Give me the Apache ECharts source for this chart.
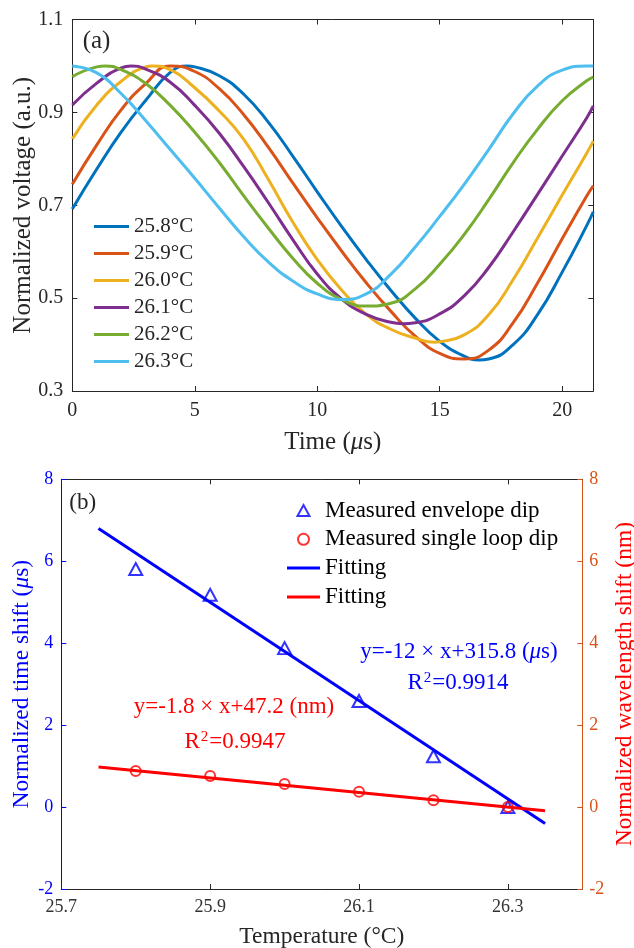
<!DOCTYPE html>
<html><head><meta charset="utf-8">
<script src="https://cdn.jsdelivr.net/npm/echarts@6/dist/echarts.min.js"></script>
<style>html,body{margin:0;padding:0;background:#fff}#c{width:634px;height:948px}</style>
</head><body><div id="c"></div>
<script>
// ---------- (a) data: time (µs) and normalized voltage per temperature ----------
const curveNames = ['25.8°C','25.9°C','26.0°C','26.1°C','26.2°C','26.3°C'];
const t258 = [0,1,2,3,4,4.7,5,6,7,8,9,10,11,12,13,14,15,16,16.6,17,18,19,20,21,21.27];
const v258 = [0.692,0.778,0.858,0.926,0.986,1.000,0.998,0.979,0.939,0.879,0.806,0.729,0.654,0.583,0.517,0.457,0.407,0.375,0.367,0.369,0.400,0.465,0.556,0.656,0.686];
const t259 = [0,1,2,3,4,5,6,7,8,9,10,11,12,13,14,15,16,17,18,19,20,21,21.27];
const v259 = [0.745,0.830,0.906,0.962,1.000,0.988,0.951,0.895,0.825,0.748,0.673,0.601,0.533,0.472,0.418,0.381,0.369,0.388,0.447,0.533,0.628,0.720,0.742];
const t260 = [0,1,2,3,3.25,4,5,6,7,8,9,10,11,12,13,14,14.8,15,16,17,18,19,20,21,21.27];
const v260 = [0.843,0.916,0.967,0.998,1.000,0.992,0.953,0.903,0.842,0.756,0.664,0.583,0.517,0.465,0.433,0.414,0.405,0.406,0.421,0.464,0.540,0.630,0.722,0.812,0.838];
const t261 = [0,1,2,2.4,3,4,5,6,7,8,9,10,11,12,13,13.5,14,15,16,17,18,19,20,21,21.27];
const v261 = [0.916,0.963,0.996,1.000,0.993,0.965,0.915,0.855,0.783,0.706,0.626,0.552,0.498,0.465,0.448,0.445,0.447,0.466,0.505,0.566,0.643,0.724,0.806,0.888,0.914];
const t262 = [0,1,1.35,2,3,4,5,6,7,8,9,10,11,12,13,14,15,16,17,18,19,20,21,21.27];
const v262 = [0.977,0.998,1.000,0.992,0.962,0.915,0.857,0.792,0.720,0.651,0.586,0.532,0.497,0.483,0.489,0.520,0.573,0.637,0.712,0.792,0.864,0.925,0.968,0.976];
const t263 = [0,1,2,3,4,5,6,7,8,9,10,11,12,13,14,15,16,17,18,19,20,21,21.27];
const v263 = [1.000,0.985,0.940,0.882,0.820,0.758,0.694,0.632,0.578,0.537,0.509,0.497,0.509,0.551,0.610,0.676,0.745,0.820,0.897,0.957,0.991,1.000,1.000];
const timeTicks = [0,5,10,15,20];
const voltTicks = [0.3,0.5,0.7,0.9,1.1];

// ---------- (b) data ----------
const temps = [25.8,25.9,26.0,26.1,26.2,26.3];
const envelopeShift = [5.81,5.18,3.88,2.59,1.24,0.0];
const loopShift = [0.88,0.76,0.56,0.375,0.165,0.0];
const fitTemps = [25.75,26.35];
const fitEnvelope = [6.8,-0.4];
const fitLoop = [0.98,-0.09];
const tempTicks = [25.7,25.9,26.1,26.3];

const FONT = "'Liberation Serif','Times New Roman',serif";
const DARK = '#262626';
const BLUE = '#0000FF', RED = '#FF0000', ORANGE = '#D95319';
const curveColors = ['#0072BD','#D95319','#EDB120','#7E2F8E','#77AC30','#4DBEEE'];
const curveT = [t258,t259,t260,t261,t262,t263];
const curveV = [v258,v259,v260,v261,v262,v263];

const chart = echarts.init(document.getElementById('c'), null, {renderer:'canvas'});

function frameAxis(extra){
  return Object.assign({
    type:'value', splitLine:{show:false}, nameMoveOverlap:false,
    axisLine:{show:true, onZero:false, lineStyle:{color:DARK, width:1}},
    axisTick:{show:true, inside:true, length:5, lineStyle:{color:DARK, width:1}},
    axisLabel:{show:false}
  }, extra);
}

const series = [];
curveV.forEach((arr, k) => {
  series.push({
    name: curveNames[k], type:'line', xAxisIndex:0, yAxisIndex:0,
    data: curveT[k].map((t,i)=>[t, arr[i]]),
    symbol:'none', showSymbol:false, smooth:0.5,
    lineStyle:{width:3, color:curveColors[k]}, itemStyle:{color:curveColors[k]}
  });
});
series.push({
  name:'Fitting', type:'line', xAxisIndex:2, yAxisIndex:2,
  data: fitTemps.map((t,i)=>[t, fitEnvelope[i]]),
  symbol:'none', lineStyle:{width:3, color:BLUE}, itemStyle:{color:BLUE}
});
series.push({
  name:'Fitting ', type:'line', xAxisIndex:2, yAxisIndex:3,
  data: fitTemps.map((t,i)=>[t, fitLoop[i]]),
  symbol:'none', lineStyle:{width:3, color:RED}, itemStyle:{color:RED}
});
series.push({
  name:'Measured envelope dip', type:'scatter', xAxisIndex:2, yAxisIndex:2,
  data: temps.map((t,i)=>[t, envelopeShift[i]]),
  symbol:'triangle', symbolSize:[13,12],
  itemStyle:{color:'rgba(255,255,255,0)', borderColor:BLUE, borderWidth:2}
});
series.push({
  name:'Measured single loop dip', type:'scatter', xAxisIndex:2, yAxisIndex:3,
  data: temps.map((t,i)=>[t, loopShift[i]]),
  symbol:'circle', symbolSize:10,
  itemStyle:{color:'rgba(255,255,255,0)', borderColor:RED, borderWidth:2}
});

const lineIconA = 'path://M0,0H35V3H0Z';
const lineIconB = 'path://M0,0H33V3H0Z';
const triIcon = 'path://M6,0L12,11L0,11Z';
const circIcon = 'path://M5,0A5,5,0,1,1,5,10A5,5,0,1,1,5,0Z';

const option = {
  animation:false,
  backgroundColor:'#fff',
  textStyle:{fontFamily:FONT},
  grid:[
    {left:72.3, top:19.5, width:521, height:371.5, outerBoundsMode:'none', containLabel:false},
    {left:61.3, top:479.3, width:521, height:409.7, outerBoundsMode:'none', containLabel:false}
  ],
  xAxis:[
    frameAxis({gridIndex:0, min:0, max:21.27, position:'bottom',
      axisTick:{show:true, inside:true, length:5, customValues:timeTicks, lineStyle:{color:DARK}},
      axisLabel:{show:true, customValues:timeTicks, color:DARK, fontSize:20, fontFamily:FONT, margin:10},
      name:'Time ({i|μ}s)', nameLocation:'middle', nameGap:38.5,
      nameTextStyle:{color:DARK, fontSize:25, fontFamily:FONT, rich:{i:{fontStyle:'italic', fontSize:25, fontFamily:FONT, color:DARK}}}}),
    frameAxis({gridIndex:0, min:0, max:21.27, position:'top',
      axisTick:{show:true, inside:true, length:5, customValues:timeTicks, lineStyle:{color:DARK}}}),
    frameAxis({gridIndex:1, min:25.7, max:26.4, position:'bottom',
      axisTick:{show:true, inside:true, length:5, customValues:tempTicks, lineStyle:{color:DARK}},
      axisLabel:{show:true, customValues:tempTicks, color:'#333', fontSize:18, fontFamily:FONT, margin:9},
      name:'Temperature (°C)', nameLocation:'middle', nameGap:36,
      nameTextStyle:{color:DARK, fontSize:23.5, fontFamily:FONT}}),
    frameAxis({gridIndex:1, min:25.7, max:26.4, position:'top',
      axisTick:{show:true, inside:true, length:5, customValues:tempTicks, lineStyle:{color:DARK}}})
  ],
  yAxis:[
    frameAxis({gridIndex:0, min:0.3, max:1.1, position:'left',
      axisTick:{show:true, inside:true, length:5, customValues:voltTicks, lineStyle:{color:DARK}},
      axisLabel:{show:true, customValues:voltTicks, color:DARK, fontSize:20, fontFamily:FONT, margin:9},
      name:'Normalized voltage (a.u.)', nameLocation:'middle', nameGap:36, nameRotate:90,
      nameTextStyle:{color:DARK, fontSize:25, fontFamily:FONT}}),
    frameAxis({gridIndex:0, min:0.3, max:1.1, position:'right',
      axisTick:{show:true, inside:true, length:5, customValues:voltTicks, lineStyle:{color:DARK}}}),
    frameAxis({gridIndex:1, min:-2, max:8, interval:2, position:'left',
      axisLine:{show:true, onZero:false, lineStyle:{color:BLUE, width:1}},
      axisTick:{show:true, inside:true, length:5, lineStyle:{color:BLUE}},
      axisLabel:{show:true, color:BLUE, fontSize:18, fontFamily:FONT, margin:8},
      name:'Normalized time shift ({i|μ}s)', nameLocation:'middle', nameGap:27.5, nameRotate:90,
      nameTextStyle:{color:BLUE, fontSize:23.5, fontFamily:FONT, rich:{i:{fontStyle:'italic', fontSize:23.5, fontFamily:FONT, color:BLUE}}}}),
    frameAxis({gridIndex:1, min:-2, max:8, interval:2, position:'right',
      axisLine:{show:true, onZero:false, lineStyle:{color:ORANGE, width:1}},
      axisTick:{show:true, inside:true, length:5, lineStyle:{color:ORANGE}},
      axisLabel:{show:true, color:ORANGE, fontSize:18, fontFamily:FONT, margin:7},
      name:'Normalized wavelength shift (nm)', nameLocation:'middle', nameGap:31, nameRotate:90,
      nameTextStyle:{color:RED, fontSize:23.5, fontFamily:FONT}})
  ],
  legend:[
    {data:curveNames.map(n=>({name:n, icon:lineIconA})), orient:'vertical', left:94, top:216, padding:0,
     itemWidth:35, itemHeight:14, itemGap:6, symbolKeepAspect:true,
     textStyle:{fontSize:21, fontFamily:FONT, color:DARK}},
    {data:[{name:'Measured envelope dip', icon:triIcon},{name:'Measured single loop dip', icon:circIcon},{name:'Fitting', icon:lineIconB},{name:'Fitting ', icon:lineIconB}],
     orient:'vertical', left:287, top:499, padding:0,
     itemWidth:33, itemHeight:11, itemGap:5.8, symbolKeepAspect:true,
     textStyle:{fontSize:23, fontFamily:FONT, color:'#000'}}
  ],
  graphic:[
    {type:'text', x:82.7, y:41, style:{text:'(a)', fontSize:25, fontFamily:FONT, fill:DARK, align:'left', verticalAlign:'middle'}},
    {type:'text', x:69.3, y:503, style:{text:'(b)', fontSize:23, fontFamily:FONT, fill:DARK, align:'left', verticalAlign:'middle'}},
    {type:'text', x:459, y:652, style:{text:'y=-12 × x+315.8 ({i|μ}s)', fontSize:23, fontFamily:FONT, fill:BLUE, align:'center', verticalAlign:'middle',
      rich:{i:{fontStyle:'italic', fontSize:23, fontFamily:FONT, fill:BLUE}}}},
    {type:'text', x:458, y:683, style:{text:'R{s|2}=0.9914', fontSize:23, fontFamily:FONT, fill:BLUE, align:'center', verticalAlign:'middle',
      rich:{s:{fontSize:15, fontFamily:FONT, fill:BLUE, verticalAlign:'top', padding:[0,1,10,1]}}}},
    {type:'text', x:234, y:707, style:{text:'y=-1.8 × x+47.2 (nm)', fontSize:23, fontFamily:FONT, fill:RED, align:'center', verticalAlign:'middle'}},
    {type:'text', x:235, y:742, style:{text:'R{s|2}=0.9947', fontSize:23, fontFamily:FONT, fill:RED, align:'center', verticalAlign:'middle',
      rich:{s:{fontSize:15, fontFamily:FONT, fill:RED, verticalAlign:'top', padding:[0,1,10,1]}}}}
  ],
  series: series
};
chart.setOption(option);
</script>
</body></html>
